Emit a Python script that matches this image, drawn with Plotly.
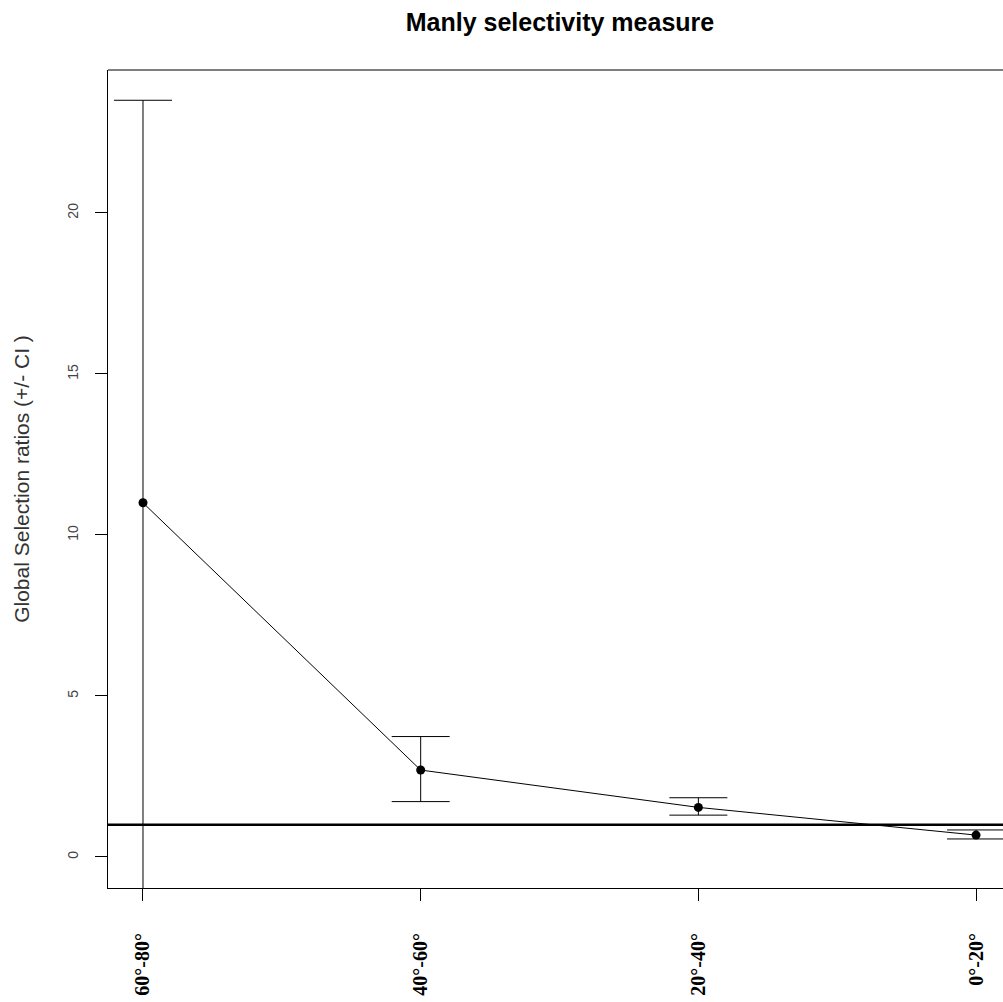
import plotly.graph_objects as go

categories = ["60°-80°", "40°-60°", "20°-40°", "0°-20°"]
x_pos = [1, 2, 3, 4]
ratio = [11.0, 2.70, 1.54, 0.68]
ci_upper = [23.5, 3.74, 1.84, 0.84]
ci_lower = [-1.5, 1.72, 1.30, 0.56]
y_ticks = [0, 5, 10, 15, 20]
ref_level = 1

err_plus = [u - r for u, r in zip(ci_upper, ratio)]
err_minus = [r - l for r, l in zip(ratio, ci_lower)]

fig = go.Figure()
fig.add_trace(go.Scatter(
    x=x_pos, y=ratio, mode="lines+markers",
    line=dict(color="black", width=1),
    marker=dict(color="black", size=9, symbol="circle"),
    error_y=dict(type="data", symmetric=False, array=err_plus, arrayminus=err_minus,
                 color="black", thickness=1, width=29),
    showlegend=False, cliponaxis=True,
))

fig.add_hline(y=ref_level, line=dict(color="black", width=2.5))
# top border of the box (right side is outside the window)
fig.add_shape(type="line", xref="paper", yref="paper", x0=0, x1=1, y0=1, y1=1,
              line=dict(color="black", width=1))

fig.update_layout(
    width=1003, height=1002,
    margin=dict(l=108, r=0, t=70, b=114),
    paper_bgcolor="white", plot_bgcolor="white",
    font=dict(family="Liberation Sans, Arial", color="black"),
    title=dict(text="Manly selectivity measure", x=0.505, xanchor="center", xref="paper",
               y=1 - 22 / 1002, yanchor="middle", yref="container",
               font=dict(family="Liberation Sans, Arial", size=25, color="black", weight="bold")),
    xaxis=dict(range=[0.874, 4.097], tickmode="array", tickvals=x_pos, ticktext=categories,
               tickangle=-90, ticks="outside", ticklen=12, tickcolor="black",
               showline=True, linecolor="black", linewidth=1, showgrid=False, zeroline=False,
               ticklabelstandoff=24,
               tickfont=dict(family="Liberation Serif, Times New Roman", size=20,
                             color="black", weight="bold")),
    yaxis=dict(range=[-0.963, 24.44], tickmode="array", tickvals=y_ticks,
               ticktext=[str(v) for v in y_ticks],
               tickangle=-90, ticks="outside", ticklen=12, tickcolor="black",
               showline=True, linecolor="black", linewidth=1, showgrid=False, zeroline=False,
               ticklabelstandoff=11,
               tickfont=dict(family="Liberation Sans, Arial", size=14, color="#444444"),
               title=dict(text="Global Selection ratios (+/- CI )", standoff=30,
                          font=dict(family="Liberation Sans, Arial", size=21, color="#333333"))),
)

fig.write_html("out.html")
